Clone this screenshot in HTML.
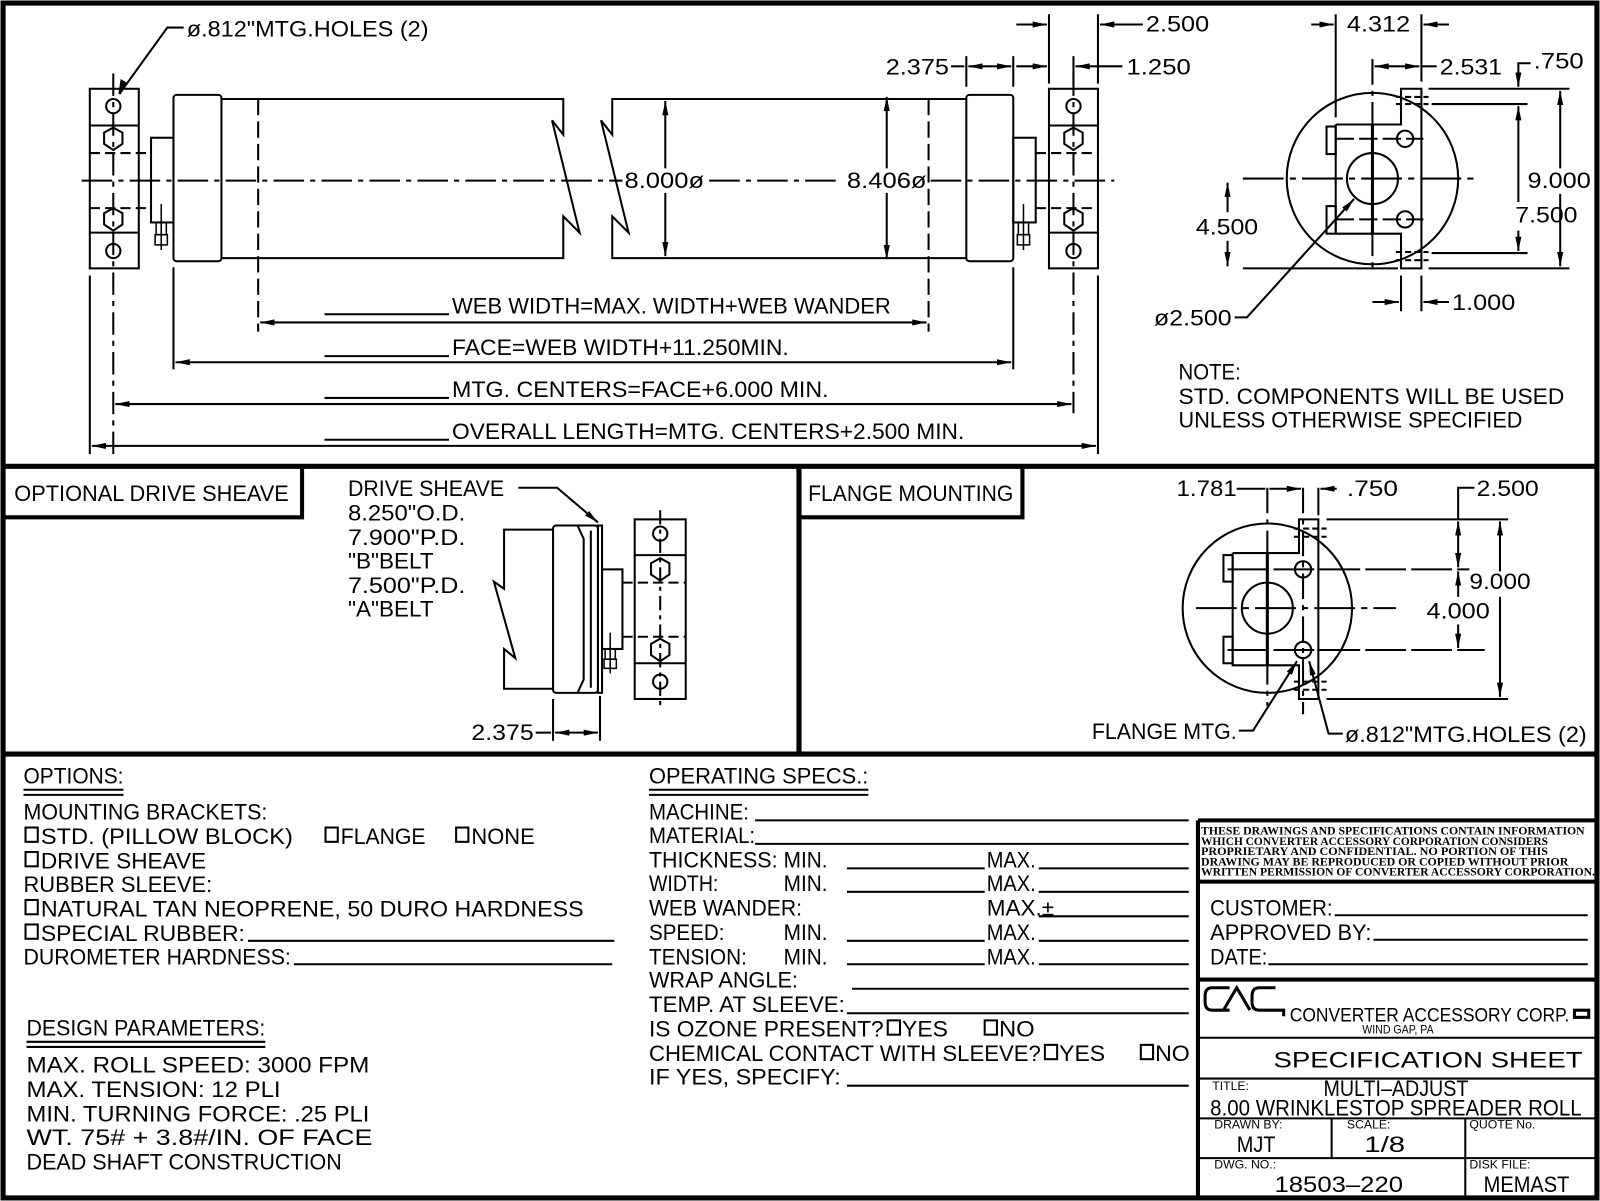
<!DOCTYPE html>
<html><head><meta charset="utf-8"><style>
html,body{margin:0;padding:0;background:#fff;}
svg{display:block;}
text{font-family:"Liberation Sans",sans-serif;font-size:22px;fill:#000;}
.s{font-size:12px;}
.d{font-family:"Liberation Serif",serif;font-weight:bold;font-size:11.5px;}
</style></head><body>
<svg width="1600" height="1201" viewBox="0 0 1568 1177" xmlns="http://www.w3.org/2000/svg">
<defs>
<marker id="a" viewBox="0 0 14 6" refX="14" refY="3" markerWidth="14" markerHeight="6" markerUnits="userSpaceOnUse" orient="auto-start-reverse"><path d="M0,0 L14,3 L0,6 Z" fill="#000"/></marker>
</defs>
<rect width="1568" height="1177" fill="#fff"/>
<g fill="none" stroke="#000" stroke-width="2">
<!-- frame -->
<rect x="3" y="3" width="1562" height="1171" stroke-width="5"/>
<line x1="3" y1="457" x2="1565" y2="457" stroke-width="5"/>
<line x1="3" y1="739" x2="1565" y2="739" stroke-width="5"/>
<line x1="783" y1="457" x2="783" y2="739" stroke-width="5"/>
<polyline points="4,507 296,507 296,459" stroke-width="4"/>
<polyline points="785,507 1002,507 1002,459" stroke-width="4"/>
<!-- title block -->
<line x1="1174" y1="804" x2="1174" y2="1174" stroke-width="4"/>
<line x1="1174" y1="804" x2="1565" y2="804" stroke-width="4"/>
<line x1="1174" y1="864" x2="1565" y2="864" stroke-width="4"/>
<line x1="1174" y1="960" x2="1565" y2="960" stroke-width="4"/>
<line x1="1174" y1="1017" x2="1565" y2="1017"/>
<line x1="1174" y1="1057" x2="1565" y2="1057"/>
<line x1="1174" y1="1096" x2="1565" y2="1096"/>
<line x1="1174" y1="1135" x2="1565" y2="1135"/>
<line x1="1305" y1="1096" x2="1305" y2="1135"/>
<line x1="1436" y1="1096" x2="1436" y2="1174"/>
<rect x="1543" y="990" width="14" height="7" stroke-width="3"/>
<!-- CAC logo -->
<g stroke-width="3">
<path d="M1205,968 L1188,968 Q1181,968 1181,976 L1181,982 Q1181,990 1188,990 L1205,990"/>
<path d="M1199,990 L1212,968 L1225,990"/>
<path d="M1250,968 L1234,968 Q1227,968 1227,976 L1227,982 Q1227,990 1234,990 L1258,990 L1258,996"/>
</g>
<!-- underlines (form) -->
<line x1="23" y1="774" x2="121" y2="774"/><line x1="23" y1="779" x2="121" y2="779"/>
<line x1="26" y1="1021" x2="260" y2="1021"/><line x1="26" y1="1026" x2="260" y2="1026"/>
<line x1="636" y1="774" x2="851" y2="774"/><line x1="636" y1="779" x2="851" y2="779"/>
<line x1="243" y1="922" x2="602" y2="922"/>
<line x1="288" y1="945" x2="600" y2="945"/>
<line x1="740" y1="804" x2="1165" y2="804"/>
<line x1="740" y1="827" x2="1165" y2="827"/>
<line x1="830" y1="851" x2="965" y2="851"/><line x1="1018" y1="851" x2="1165" y2="851"/>
<line x1="830" y1="874" x2="965" y2="874"/><line x1="1018" y1="874" x2="1165" y2="874"/>
<line x1="1018" y1="898" x2="1165" y2="898"/>
<line x1="830" y1="922" x2="965" y2="922"/><line x1="1018" y1="922" x2="1165" y2="922"/>
<line x1="830" y1="945" x2="965" y2="945"/><line x1="1018" y1="945" x2="1165" y2="945"/>
<line x1="835" y1="969" x2="1165" y2="969"/>
<line x1="830" y1="993" x2="1165" y2="993"/>
<line x1="830" y1="1064" x2="1165" y2="1064"/>
<line x1="1308" y1="897" x2="1556" y2="897"/>
<line x1="1346" y1="921" x2="1556" y2="921"/>
<line x1="1243" y1="945" x2="1556" y2="945"/>
<!-- checkboxes -->
<rect x="25" y="811" width="12" height="14"/><rect x="319" y="811" width="12" height="14"/><rect x="447" y="811" width="12" height="14"/>
<rect x="25" y="835" width="12" height="14"/><rect x="25" y="882" width="12" height="14"/><rect x="25" y="906" width="12" height="14"/>
<rect x="870" y="1000" width="12" height="14"/><rect x="965" y="1000" width="12" height="14"/>
<rect x="1024" y="1024" width="12" height="14"/><rect x="1118" y="1024" width="12" height="14"/>

<!-- ===== TOP MAIN VIEW ===== -->
<!-- left pillow block -->
<rect x="88" y="87" width="48" height="176"/>
<line x1="88" y1="123" x2="136" y2="123"/><line x1="88" y1="228" x2="136" y2="228"/>
<line x1="88" y1="150" x2="148" y2="150" stroke-dasharray="10 5"/><line x1="88" y1="204" x2="148" y2="204" stroke-dasharray="10 5"/>
<circle cx="111" cy="104" r="7"/><circle cx="111" cy="246" r="7"/>
<polygon points="111,125 120,130 120,141 111,147 102,141 102,130"/>
<polygon points="111,204 120,209 120,220 111,226 102,220 102,209"/>
<!-- right pillow block -->
<rect x="1028" y="87" width="48" height="176"/>
<line x1="1028" y1="123" x2="1076" y2="123"/><line x1="1028" y1="228" x2="1076" y2="228"/>
<line x1="1015" y1="150" x2="1076" y2="150" stroke-dasharray="10 5"/><line x1="1015" y1="204" x2="1076" y2="204" stroke-dasharray="10 5"/>
<circle cx="1052" cy="104" r="7"/><circle cx="1052" cy="246" r="7"/>
<polygon points="1052,125 1061,130 1061,141 1052,147 1043,141 1043,130"/>
<polygon points="1052,204 1061,209 1061,220 1052,226 1043,220 1043,209"/>
<!-- hubs -->
<rect x="148" y="135" width="22" height="83"/>
<rect x="993" y="135" width="22" height="83"/>
<rect x="153" y="218" width="10" height="12" stroke-width="1.5"/><rect x="152" y="230" width="12" height="10" stroke-width="1.5"/>
<rect x="998" y="218" width="10" height="12" stroke-width="1.5"/><rect x="997" y="230" width="12" height="10" stroke-width="1.5"/>
<line x1="158" y1="200" x2="158" y2="245" stroke-width="1.5"/><line x1="1003" y1="200" x2="1003" y2="245" stroke-width="1.5"/>
<!-- end caps -->
<rect x="170" y="93" width="47" height="163" rx="3"/>
<rect x="947" y="93" width="46" height="163" rx="3"/>
<!-- body -->
<polyline points="217,97 552,97 552,132 541,118 568,228 552,212 552,253 217,253"/>
<polyline points="947,97 600,97 600,132 589,118 616,228 600,212 600,253 947,253"/>
<line x1="253" y1="97" x2="253" y2="325" stroke-dasharray="16 6"/>
<line x1="910" y1="97" x2="910" y2="325" stroke-dasharray="16 6"/>
<!-- center lines -->
<line x1="80" y1="177" x2="610" y2="177" stroke-dasharray="30 6 5 6"/>
<line x1="695" y1="177" x2="825" y2="177" stroke-dasharray="30 6 5 6"/>
<line x1="912" y1="177" x2="1092" y2="177" stroke-dasharray="30 6 5 6"/>
<line x1="111" y1="72" x2="111" y2="445" stroke-dasharray="22 6 5 6"/>
<line x1="1052" y1="72" x2="1052" y2="405" stroke-dasharray="22 6 5 6"/>
<!-- vertical dims -->
<line x1="652" y1="99" x2="652" y2="165" marker-start="url(#a)"/><line x1="652" y1="189" x2="652" y2="251" marker-end="url(#a)"/>
<line x1="869" y1="95" x2="869" y2="165" marker-start="url(#a)"/><line x1="869" y1="189" x2="869" y2="254" marker-end="url(#a)"/>
<!-- extension lines bottom -->
<line x1="88" y1="270" x2="88" y2="445"/>
<line x1="1076" y1="270" x2="1076" y2="445"/>
<line x1="170" y1="262" x2="170" y2="362"/>
<line x1="993" y1="262" x2="993" y2="362"/>
<!-- horizontal dims -->
<line x1="255" y1="316" x2="908" y2="316" marker-start="url(#a)" marker-end="url(#a)"/>
<line x1="172" y1="355" x2="991" y2="355" marker-start="url(#a)" marker-end="url(#a)"/>
<line x1="113" y1="396" x2="1050" y2="396" marker-start="url(#a)" marker-end="url(#a)"/>
<line x1="90" y1="437" x2="1074" y2="437" marker-start="url(#a)" marker-end="url(#a)"/>
<line x1="318" y1="308" x2="440" y2="308"/><line x1="318" y1="349" x2="440" y2="349"/>
<line x1="318" y1="390" x2="440" y2="390"/><line x1="318" y1="431" x2="440" y2="431"/>
<!-- leader top-left -->
<polyline points="180,27 164,27 117,92" />
<path d="M117,92 L119,79 L124,82 Z" fill="#000"/>
<!-- top dims -->
<line x1="1028" y1="14" x2="1028" y2="82"/><line x1="1076" y1="14" x2="1076" y2="82"/>
<line x1="1052" y1="55" x2="1052" y2="82"/><line x1="947" y1="55" x2="947" y2="85"/><line x1="993" y1="55" x2="993" y2="85"/>
<line x1="996" y1="24" x2="1026" y2="24" marker-end="url(#a)"/><line x1="1120" y1="24" x2="1078" y2="24" marker-end="url(#a)"/>
<line x1="996" y1="65" x2="1026" y2="65" marker-end="url(#a)"/><line x1="1100" y1="65" x2="1054" y2="65" marker-end="url(#a)"/>
<line x1="932" y1="65" x2="945" y2="65"/><line x1="949" y1="65" x2="991" y2="65" marker-start="url(#a)" marker-end="url(#a)"/>

<!-- ===== TOP RIGHT END VIEW ===== -->
<circle cx="1345" cy="175" r="84"/>
<circle cx="1345" cy="175" r="25"/>
<polyline points="1309,122 1373,122 1373,87 1393,87 1393,263 1373,263 1373,229 1309,229 1309,122"/>
<line x1="1345" y1="122" x2="1345" y2="229" stroke-width="3"/>
<rect x="1300" y="124" width="9" height="27"/><rect x="1300" y="202" width="9" height="27"/>
<circle cx="1377" cy="136" r="8"/><circle cx="1377" cy="215" r="8"/>
<line x1="1368" y1="95" x2="1400" y2="95" stroke-dasharray="6 3"/><line x1="1368" y1="102" x2="1400" y2="102" stroke-dasharray="6 3"/>
<line x1="1368" y1="247" x2="1400" y2="247" stroke-dasharray="6 3"/><line x1="1368" y1="255" x2="1400" y2="255" stroke-dasharray="6 3"/>
<line x1="1309" y1="136" x2="1395" y2="136" stroke-dasharray="18 5"/><line x1="1309" y1="215" x2="1395" y2="215" stroke-dasharray="18 5"/>
<line x1="1218" y1="175" x2="1445" y2="175" stroke-dasharray="40 6 6 6"/>
<line x1="1345" y1="58" x2="1345" y2="263" stroke-dasharray="25 6 5 6"/>
<line x1="1309" y1="14" x2="1309" y2="115"/><line x1="1393" y1="14" x2="1393" y2="80"/>
<line x1="1285" y1="24" x2="1307" y2="24" marker-end="url(#a)"/><line x1="1420" y1="24" x2="1395" y2="24" marker-end="url(#a)"/>
<line x1="1347" y1="65" x2="1391" y2="65" marker-start="url(#a)" marker-end="url(#a)"/><line x1="1393" y1="65" x2="1408" y2="65"/>
<line x1="1218" y1="263" x2="1370" y2="263"/><line x1="1400" y1="263" x2="1538" y2="263"/>
<line x1="1400" y1="87" x2="1538" y2="87"/><line x1="1403" y1="102" x2="1497" y2="102"/><line x1="1403" y1="248" x2="1497" y2="248"/>
<line x1="1529" y1="89" x2="1529" y2="165" marker-start="url(#a)"/><line x1="1529" y1="190" x2="1529" y2="261" marker-end="url(#a)"/>
<line x1="1488" y1="104" x2="1488" y2="198" marker-start="url(#a)"/><line x1="1488" y1="226" x2="1488" y2="246" marker-end="url(#a)"/>
<polyline points="1500,62 1488,62 1488,85" marker-end="url(#a)"/>
<line x1="1203" y1="179" x2="1203" y2="208" marker-start="url(#a)"/><line x1="1203" y1="236" x2="1203" y2="261" marker-end="url(#a)"/>
<line x1="1373" y1="270" x2="1373" y2="305"/><line x1="1393" y1="270" x2="1393" y2="305"/>
<line x1="1345" y1="296" x2="1371" y2="296" marker-end="url(#a)"/><line x1="1420" y1="296" x2="1395" y2="296" marker-end="url(#a)"/>
<polyline points="1210,311 1222,311 1327,195" marker-end="url(#a)"/>

<!-- ===== DRIVE SHEAVE VIEW ===== -->
<polyline points="542,519 494,519 494,577 484,570 505,645 494,636 494,675 542,675"/>
<rect x="542" y="515" width="44" height="164" rx="3"/>
<polyline points="566,515 572,528 572,666 566,679"/>
<line x1="579" y1="520" x2="579" y2="674"/>
<rect x="586" y="515" width="4" height="164"/>
<rect x="590" y="558" width="20" height="78"/>
<line x1="598" y1="620" x2="598" y2="660" stroke-width="1.5"/>
<rect x="593" y="636" width="10" height="10" stroke-width="1.5"/><rect x="592" y="646" width="12" height="9" stroke-width="1.5"/>
<rect x="622" y="509" width="50" height="176"/>
<line x1="622" y1="544" x2="672" y2="544"/><line x1="622" y1="650" x2="672" y2="650"/>
<line x1="610" y1="571" x2="672" y2="571" stroke-dasharray="10 5"/><line x1="610" y1="624" x2="672" y2="624" stroke-dasharray="10 5"/>
<circle cx="647" cy="523" r="7"/><circle cx="647" cy="668" r="7"/>
<polygon points="647,547 656,552 656,563 647,569 638,563 638,552"/>
<polygon points="647,626 656,631 656,642 647,648 638,642 638,631"/>
<line x1="647" y1="500" x2="647" y2="692" stroke-dasharray="14 5 4 5"/>
<polyline points="508,478 546,478 586,512" marker-end="url(#a)"/>
<line x1="542" y1="685" x2="542" y2="726"/><line x1="588" y1="682" x2="588" y2="726"/>
<line x1="525" y1="718" x2="540" y2="718"/><line x1="544" y1="718" x2="586" y2="718" marker-start="url(#a)" marker-end="url(#a)"/>

<!-- ===== FLANGE VIEW ===== -->
<circle cx="1242" cy="596" r="83"/>
<circle cx="1242" cy="596" r="25"/>
<polyline points="1208,542 1273,542 1273,509 1292,509 1292,685 1273,685 1273,652 1208,652 1208,542"/>
<line x1="1242" y1="542" x2="1242" y2="652" stroke-width="3"/>
<rect x="1199" y="544" width="9" height="26"/><rect x="1199" y="624" width="9" height="26"/>
<circle cx="1277" cy="558" r="8"/><circle cx="1277" cy="637" r="8"/>
<line x1="1268" y1="518" x2="1300" y2="518" stroke-dasharray="6 3"/><line x1="1268" y1="526" x2="1300" y2="526" stroke-dasharray="6 3"/>
<line x1="1268" y1="668" x2="1300" y2="668" stroke-dasharray="6 3"/><line x1="1268" y1="676" x2="1300" y2="676" stroke-dasharray="6 3"/>
<line x1="1203" y1="558" x2="1440" y2="558" stroke-dasharray="40 5"/><line x1="1203" y1="637" x2="1455" y2="637" stroke-dasharray="40 5"/>
<line x1="1172" y1="596" x2="1368" y2="596" stroke-dasharray="40 6 6 6"/>
<line x1="1242" y1="478" x2="1242" y2="692" stroke-dasharray="25 6 5 6"/>
<line x1="1277" y1="478" x2="1277" y2="700" stroke-dasharray="25 6 5 6"/>
<line x1="1292" y1="478" x2="1292" y2="505"/>
<line x1="1212" y1="479" x2="1240" y2="479"/><line x1="1244" y1="479" x2="1275" y2="479" marker-end="url(#a)"/>
<line x1="1310" y1="479" x2="1294" y2="479" marker-end="url(#a)"/>
<line x1="1300" y1="509" x2="1478" y2="509"/><line x1="1300" y1="685" x2="1478" y2="685"/>
<polyline points="1445,478 1429,478 1429,509"/>
<line x1="1429" y1="511" x2="1429" y2="556" marker-start="url(#a)" marker-end="url(#a)"/>
<line x1="1429" y1="560" x2="1429" y2="585" marker-start="url(#a)"/><line x1="1429" y1="612" x2="1429" y2="635" marker-end="url(#a)"/>
<line x1="1470" y1="511" x2="1470" y2="560" marker-start="url(#a)"/><line x1="1470" y1="585" x2="1470" y2="683" marker-end="url(#a)"/>
<polyline points="1214,716 1228,716 1271,648" marker-end="url(#a)"/>
<polyline points="1316,719 1302,719 1283,648" marker-end="url(#a)"/>
</g>

<!-- ===== TEXT ===== -->
<g>
<text x="183" y="36" textLength="237" lengthAdjust="spacingAndGlyphs">ø.812"MTG.HOLES (2)</text>
<text x="1123" y="31" textLength="62" lengthAdjust="spacingAndGlyphs">2.500</text>
<text x="1104" y="73" textLength="63" lengthAdjust="spacingAndGlyphs">1.250</text>
<text x="868" y="73" textLength="62" lengthAdjust="spacingAndGlyphs">2.375</text>
<text x="612" y="184" textLength="78" lengthAdjust="spacingAndGlyphs">8.000ø</text>
<text x="830" y="184" textLength="78" lengthAdjust="spacingAndGlyphs">8.406ø</text>
<text x="443" y="307" textLength="430" lengthAdjust="spacingAndGlyphs">WEB  WIDTH=MAX.  WIDTH+WEB  WANDER</text>
<text x="443" y="348" textLength="330" lengthAdjust="spacingAndGlyphs">FACE=WEB  WIDTH+11.250MIN.</text>
<text x="443" y="389" textLength="369" lengthAdjust="spacingAndGlyphs">MTG.  CENTERS=FACE+6.000  MIN.</text>
<text x="443" y="430" textLength="502" lengthAdjust="spacingAndGlyphs">OVERALL  LENGTH=MTG.  CENTERS+2.500  MIN.</text>
<text x="1320" y="31" textLength="62" lengthAdjust="spacingAndGlyphs">4.312</text>
<text x="1411" y="73" textLength="61" lengthAdjust="spacingAndGlyphs">2.531</text>
<text x="1503" y="67" textLength="49" lengthAdjust="spacingAndGlyphs">.750</text>
<text x="1497" y="184" textLength="62" lengthAdjust="spacingAndGlyphs">9.000</text>
<text x="1485" y="218" textLength="61" lengthAdjust="spacingAndGlyphs">7.500</text>
<text x="1172" y="230" textLength="61" lengthAdjust="spacingAndGlyphs">4.500</text>
<text x="1423" y="304" textLength="62" lengthAdjust="spacingAndGlyphs">1.000</text>
<text x="1131" y="319" textLength="76" lengthAdjust="spacingAndGlyphs">ø2.500</text>
<text x="1155" y="372" textLength="61" lengthAdjust="spacingAndGlyphs">NOTE:</text>
<text x="1155" y="396" textLength="378" lengthAdjust="spacingAndGlyphs">STD.  COMPONENTS  WILL  BE  USED</text>
<text x="1155" y="419" textLength="337" lengthAdjust="spacingAndGlyphs">UNLESS  OTHERWISE  SPECIFIED</text>

<text x="14" y="491" textLength="269" lengthAdjust="spacingAndGlyphs">OPTIONAL  DRIVE  SHEAVE</text>
<text x="341" y="486" textLength="153" lengthAdjust="spacingAndGlyphs">DRIVE  SHEAVE</text>
<text x="341" y="510" textLength="115" lengthAdjust="spacingAndGlyphs">8.250"O.D.</text>
<text x="341" y="534" textLength="115" lengthAdjust="spacingAndGlyphs">7.900"P.D.</text>
<text x="341" y="557" textLength="84" lengthAdjust="spacingAndGlyphs">"B"BELT</text>
<text x="341" y="581" textLength="115" lengthAdjust="spacingAndGlyphs">7.500"P.D.</text>
<text x="341" y="604" textLength="84" lengthAdjust="spacingAndGlyphs">"A"BELT</text>
<text x="462" y="725" textLength="61" lengthAdjust="spacingAndGlyphs">2.375</text>
<text x="792" y="491" textLength="201" lengthAdjust="spacingAndGlyphs">FLANGE  MOUNTING</text>
<text x="1153" y="486" textLength="59" lengthAdjust="spacingAndGlyphs">1.781</text>
<text x="1320" y="486" textLength="50" lengthAdjust="spacingAndGlyphs">.750</text>
<text x="1447" y="486" textLength="61" lengthAdjust="spacingAndGlyphs">2.500</text>
<text x="1440" y="577" textLength="60" lengthAdjust="spacingAndGlyphs">9.000</text>
<text x="1398" y="606" textLength="62" lengthAdjust="spacingAndGlyphs">4.000</text>
<text x="1070" y="724" textLength="142" lengthAdjust="spacingAndGlyphs">FLANGE  MTG.</text>
<text x="1318" y="727" textLength="237" lengthAdjust="spacingAndGlyphs">ø.812"MTG.HOLES (2)</text>

<text x="23" y="768" textLength="98" lengthAdjust="spacingAndGlyphs">OPTIONS:</text>
<text x="23" y="803" textLength="239" lengthAdjust="spacingAndGlyphs">MOUNTING  BRACKETS:</text>
<text x="40" y="827" textLength="247" lengthAdjust="spacingAndGlyphs">STD.  (PILLOW  BLOCK)</text>
<text x="334" y="827" textLength="83" lengthAdjust="spacingAndGlyphs">FLANGE</text>
<text x="462" y="827" textLength="62" lengthAdjust="spacingAndGlyphs">NONE</text>
<text x="40" y="851" textLength="162" lengthAdjust="spacingAndGlyphs">DRIVE  SHEAVE</text>
<text x="23" y="874" textLength="185" lengthAdjust="spacingAndGlyphs">RUBBER  SLEEVE:</text>
<text x="40" y="898" textLength="532" lengthAdjust="spacingAndGlyphs">NATURAL  TAN  NEOPRENE,  50  DURO  HARDNESS</text>
<text x="40" y="922" textLength="200" lengthAdjust="spacingAndGlyphs">SPECIAL  RUBBER:</text>
<text x="23" y="945" textLength="262" lengthAdjust="spacingAndGlyphs">DUROMETER  HARDNESS:</text>
<text x="26" y="1015" textLength="234" lengthAdjust="spacingAndGlyphs">DESIGN  PARAMETERS:</text>
<text x="26" y="1051" textLength="336" lengthAdjust="spacingAndGlyphs">MAX.  ROLL  SPEED:  3000  FPM</text>
<text x="26" y="1075" textLength="249" lengthAdjust="spacingAndGlyphs">MAX.  TENSION:  12  PLI</text>
<text x="26" y="1099" textLength="336" lengthAdjust="spacingAndGlyphs">MIN.  TURNING  FORCE:  .25  PLI</text>
<text x="26" y="1122" textLength="339" lengthAdjust="spacingAndGlyphs">WT.  75#  +  3.8#/IN.  OF  FACE</text>
<text x="26" y="1146" textLength="309" lengthAdjust="spacingAndGlyphs">DEAD  SHAFT  CONSTRUCTION</text>

<text x="636" y="768" textLength="215" lengthAdjust="spacingAndGlyphs">OPERATING  SPECS.:</text>
<text x="636" y="803" textLength="98" lengthAdjust="spacingAndGlyphs">MACHINE:</text>
<text x="636" y="826" textLength="104" lengthAdjust="spacingAndGlyphs">MATERIAL:</text>
<text x="636" y="850" textLength="126" lengthAdjust="spacingAndGlyphs">THICKNESS:</text>
<text x="636" y="873" textLength="68" lengthAdjust="spacingAndGlyphs">WIDTH:</text>
<text x="636" y="897" textLength="150" lengthAdjust="spacingAndGlyphs">WEB  WANDER:</text>
<text x="636" y="921" textLength="74" lengthAdjust="spacingAndGlyphs">SPEED:</text>
<text x="636" y="945" textLength="96" lengthAdjust="spacingAndGlyphs">TENSION:</text>
<text x="768" y="850" textLength="43" lengthAdjust="spacingAndGlyphs">MIN.</text>
<text x="768" y="873" textLength="43" lengthAdjust="spacingAndGlyphs">MIN.</text>
<text x="768" y="921" textLength="43" lengthAdjust="spacingAndGlyphs">MIN.</text>
<text x="768" y="945" textLength="43" lengthAdjust="spacingAndGlyphs">MIN.</text>
<text x="967" y="850" textLength="48" lengthAdjust="spacingAndGlyphs">MAX.</text>
<text x="967" y="873" textLength="48" lengthAdjust="spacingAndGlyphs">MAX.</text>
<text x="967" y="897" textLength="66" lengthAdjust="spacingAndGlyphs">MAX.±</text>
<text x="967" y="921" textLength="48" lengthAdjust="spacingAndGlyphs">MAX.</text>
<text x="967" y="945" textLength="48" lengthAdjust="spacingAndGlyphs">MAX.</text>
<text x="636" y="968" textLength="146" lengthAdjust="spacingAndGlyphs">WRAP  ANGLE:</text>
<text x="636" y="992" textLength="192" lengthAdjust="spacingAndGlyphs">TEMP.  AT  SLEEVE:</text>
<text x="636" y="1016" textLength="230" lengthAdjust="spacingAndGlyphs">IS  OZONE  PRESENT?</text>
<text x="884" y="1016" textLength="45" lengthAdjust="spacingAndGlyphs">YES</text>
<text x="979" y="1016" textLength="35" lengthAdjust="spacingAndGlyphs">NO</text>
<text x="636" y="1040" textLength="384" lengthAdjust="spacingAndGlyphs">CHEMICAL  CONTACT  WITH  SLEEVE?</text>
<text x="1038" y="1040" textLength="45" lengthAdjust="spacingAndGlyphs">YES</text>
<text x="1132" y="1040" textLength="34" lengthAdjust="spacingAndGlyphs">NO</text>
<text x="636" y="1063" textLength="188" lengthAdjust="spacingAndGlyphs">IF  YES,  SPECIFY:</text>

<text class="d" x="1177" y="818" textLength="376" lengthAdjust="spacingAndGlyphs">THESE DRAWINGS AND SPECIFICATIONS CONTAIN INFORMATION</text>
<text class="d" x="1177" y="828" textLength="340" lengthAdjust="spacingAndGlyphs">WHICH CONVERTER ACCESSORY CORPORATION CONSIDERS</text>
<text class="d" x="1177" y="838" textLength="340" lengthAdjust="spacingAndGlyphs">PROPRIETARY AND CONFIDENTIAL. NO PORTION OF THIS</text>
<text class="d" x="1177" y="848" textLength="360" lengthAdjust="spacingAndGlyphs">DRAWING MAY BE REPRODUCED OR COPIED WITHOUT PRIOR</text>
<text class="d" x="1177" y="858" textLength="386" lengthAdjust="spacingAndGlyphs">WRITTEN PERMISSION OF CONVERTER ACCESSORY CORPORATION.</text>
<text x="1186" y="897" textLength="120" lengthAdjust="spacingAndGlyphs">CUSTOMER:</text>
<text x="1186" y="921" textLength="158" lengthAdjust="spacingAndGlyphs">APPROVED  BY:</text>
<text x="1186" y="945" textLength="56" lengthAdjust="spacingAndGlyphs">DATE:</text>
<text x="1264" y="1001" textLength="274" lengthAdjust="spacingAndGlyphs" style="font-size:19px">CONVERTER  ACCESSORY  CORP.</text>
<text class="s" x="1335" y="1013" textLength="70" lengthAdjust="spacingAndGlyphs">WIND GAP, PA</text>
<text x="1248" y="1046" textLength="303" lengthAdjust="spacingAndGlyphs">SPECIFICATION  SHEET</text>
<text class="s" x="1188" y="1068">TITLE:</text>
<text x="1297" y="1074" textLength="142" lengthAdjust="spacingAndGlyphs">MULTI–ADJUST</text>
<text x="1186" y="1093" textLength="364" lengthAdjust="spacingAndGlyphs">8.00  WRINKLESTOP  SPREADER  ROLL</text>
<text class="s" x="1190" y="1106">DRAWN BY:</text>
<text class="s" x="1320" y="1106">SCALE:</text>
<text class="s" x="1440" y="1106">QUOTE No.</text>
<text x="1212" y="1129" textLength="38" lengthAdjust="spacingAndGlyphs">MJT</text>
<text x="1337" y="1129" textLength="40" lengthAdjust="spacingAndGlyphs">1/8</text>
<text class="s" x="1190" y="1145">DWG. NO.:</text>
<text class="s" x="1440" y="1145">DISK FILE:</text>
<text x="1249" y="1168" textLength="126" lengthAdjust="spacingAndGlyphs">18503–220</text>
<text x="1454" y="1168" textLength="84" lengthAdjust="spacingAndGlyphs">MEMAST</text>
</g>
</svg>
</body></html>
